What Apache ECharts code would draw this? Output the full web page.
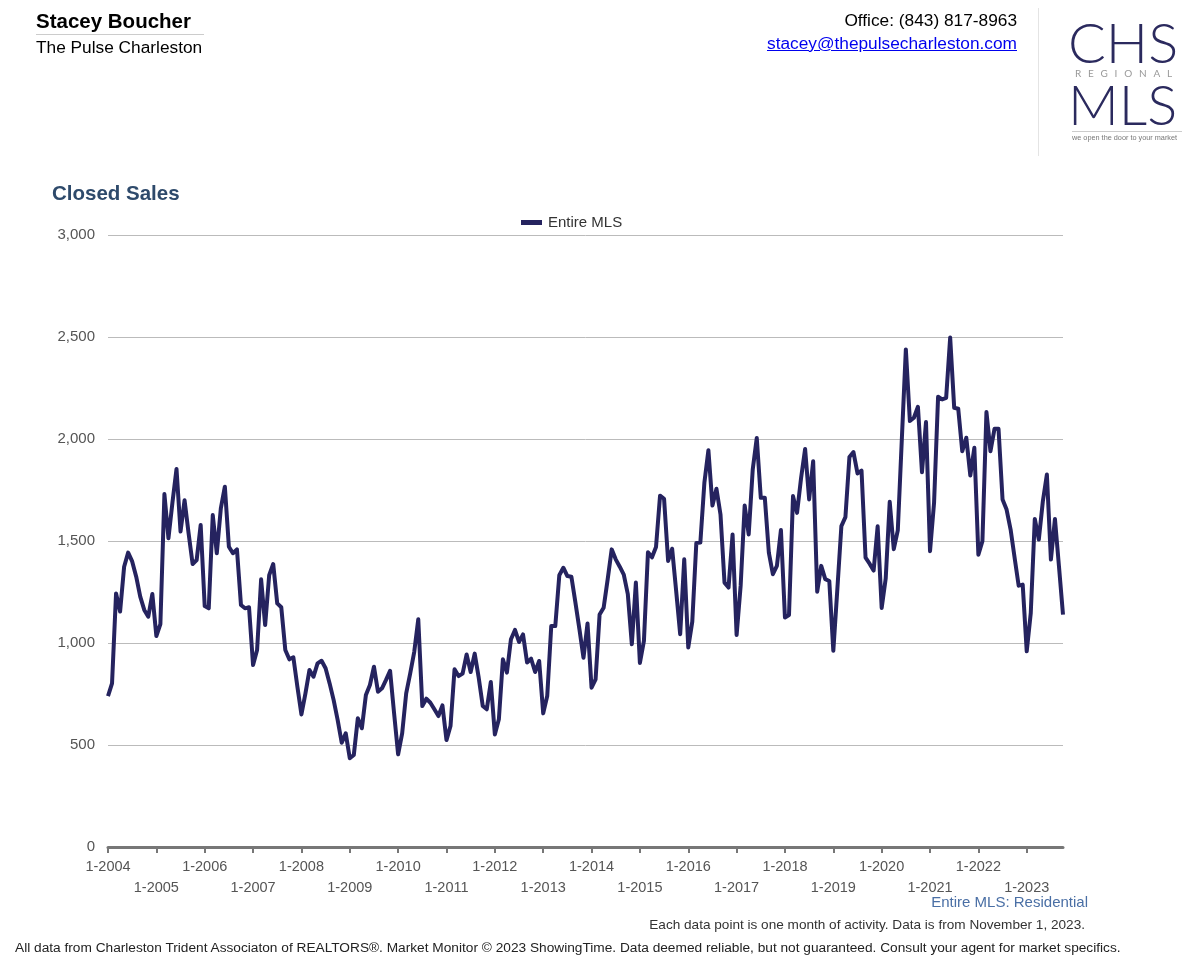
<!DOCTYPE html>
<html>
<head>
<meta charset="utf-8">
<script src="https://cdn.jsdelivr.net/npm/echarts@6/dist/echarts.min.js"></script>
<style>
  html, body { margin:0; padding:0; background:#fff; }
  body { width:1200px; height:971px; position:relative; overflow:hidden; font-family: "Liberation Sans", Arial, sans-serif; }
  #chart { position:absolute; left:0; top:0; width:1200px; height:971px; }
  .t { position:absolute; white-space:nowrap; }
</style>
</head>
<body>
<div id="chart"></div>
<div class="t" style="left:36px;top:9px;font-size:20.5px;font-weight:bold;color:#000;">Stacey Boucher</div>
<div style="position:absolute;left:36px;top:34px;width:168px;height:1px;background:#ccc;"></div>
<div class="t" style="left:36px;top:37px;font-size:17.3px;color:#000;">The Pulse Charleston</div>
<div class="t" style="right:183px;top:10px;font-size:17.3px;color:#000;">Office: (843) 817-8963</div>
<div class="t" style="right:183px;top:33px;font-size:17.3px;color:#0000ee;text-decoration:underline;">stacey@thepulsecharleston.com</div>
<div style="position:absolute;left:1038px;top:8px;width:1px;height:148px;background:#e4e4e4;"></div>
<div class="t" style="left:1068px;top:14px;font-size:56px;line-height:56px;font-family:Lato,'Open Sans',sans-serif;font-weight:300;color:#2b2a5e;letter-spacing:0px;">CHS</div>
<div class="t" style="left:1075px;top:67px;font-size:10px;line-height:12px;font-family:Lato,sans-serif;color:#999;letter-spacing:6.8px;">REGIONAL</div>
<div class="t" style="left:1068px;top:76px;font-size:56px;line-height:56px;font-family:Lato,'Open Sans',sans-serif;font-weight:300;color:#2b2a5e;letter-spacing:0px;">MLS</div>
<div style="position:absolute;left:1072px;top:131px;width:110px;height:1px;background:#ccc;"></div>
<div class="t" style="left:1072px;top:133px;font-size:7.3px;color:#777;">we open the door to your market</div>
<div class="t" style="left:52px;top:181px;font-size:20.5px;font-weight:bold;color:#2e4a6b;">Closed Sales</div>
<div class="t" style="right:112px;top:893px;font-size:15px;color:#4a6fa5;">Entire MLS: Residential</div>
<div class="t" style="right:115px;top:917px;font-size:13.6px;color:#333;">Each data point is one month of activity. Data is from November 1, 2023.</div>
<div class="t" style="left:15px;top:940px;font-size:13.7px;color:#222;">All data from Charleston Trident Associaton of REALTORS®. Market Monitor © 2023 ShowingTime. Data deemed reliable, but not guaranteed. Consult your agent for market specifics.</div>
<script>
const years = [2004,2005,2006,2007,2008,2009,2010,2011,2012,2013,2014,2015,2016,2017,2018,2019,2020,2021,2022,2023];
const v2004 = [740, 802, 1243, 1154, 1374, 1443, 1400, 1325, 1227, 1162, 1129, 1240];
const v2005 = [1034, 1093, 1730, 1513, 1690, 1853, 1546, 1700, 1538, 1387, 1407, 1578];
const v2006 = [1181, 1170, 1627, 1440, 1660, 1766, 1472, 1440, 1459, 1186, 1170, 1175];
const v2007 = [892, 966, 1312, 1088, 1333, 1387, 1194, 1175, 966, 920, 930, 786];
const v2008 = [650, 753, 868, 835, 900, 913, 876, 802, 720, 622, 511, 557];
const v2009 = [435, 451, 631, 582, 745, 794, 884, 761, 778, 819, 864, 655];
const v2010 = [454, 557, 753, 851, 957, 1116, 691, 727, 707, 675, 642, 694];
const v2011 = [524, 593, 871, 838, 850, 944, 858, 948, 830, 691, 675, 809];
const v2012 = [552, 626, 920, 855, 1018, 1064, 1005, 1042, 904, 923, 858, 912];
const v2013 = [655, 740, 1083, 1083, 1332, 1369, 1328, 1325, 1198, 1067, 928, 1096];
const v2014 = [781, 822, 1140, 1173, 1312, 1459, 1410, 1374, 1335, 1240, 994, 1296];
const v2015 = [902, 1010, 1445, 1420, 1471, 1722, 1707, 1402, 1462, 1255, 1043, 1410];
const v2016 = [978, 1105, 1490, 1492, 1785, 1945, 1674, 1756, 1630, 1296, 1272, 1532];
const v2017 = [1039, 1280, 1674, 1532, 1850, 2005, 1712, 1712, 1443, 1337, 1378, 1554];
const v2018 = [1125, 1137, 1720, 1638, 1809, 1951, 1704, 1891, 1251, 1378, 1313, 1304];
const v2019 = [962, 1264, 1573, 1617, 1912, 1936, 1831, 1845, 1418, 1389, 1355, 1572];
const v2020 = [1172, 1316, 1692, 1460, 1552, 1998, 2439, 2088, 2104, 2158, 1837, 2083];
const v2021 = [1450, 1687, 2207, 2194, 2202, 2497, 2153, 2148, 1940, 2006, 1821, 1957];
const v2022 = [1433, 1499, 2132, 1940, 2050, 2050, 1703, 1654, 1556, 1417, 1281, 1286];
const v2023 = [959, 1147, 1608, 1507, 1695, 1826, 1409, 1608, 1376, 1139];
const yearValues = [v2004,v2005,v2006,v2007,v2008,v2009,v2010,v2011,v2012,v2013,v2014,v2015,v2016,v2017,v2018,v2019,v2020,v2021,v2022,v2023];
const yTicks = [0, 500, 1000, 1500, 2000, 2500, 3000];

const categories = [];
const values = [];
years.forEach((y, yi) => {
  yearValues[yi].forEach((v, m) => { categories.push((m + 1) + '-' + y); values.push(v); });
});

const chart = echarts.init(document.getElementById('chart'), null, {renderer: 'canvas'});
const isJan = (idx) => categories[idx].startsWith('1-');
chart.setOption({
  animation: false,
  legend: {
    left: 516, top: 210,
    icon: 'rect', itemWidth: 21, itemHeight: 5, itemGap: 6,
    textStyle: { fontSize: 15, color: '#333', padding: [0, 0, 0, 1], fontFamily: 'Liberation Sans, Arial, sans-serif' },
    data: ['Entire MLS']
  },
  grid: { left: 108, right: 137, top: 235, bottom: 124, containLabel: false },
  xAxis: {
    type: 'category', data: categories, boundaryGap: false,
    axisLine: { lineStyle: { color: '#777', width: 3 } },
    axisTick: { interval: (idx) => isJan(idx), length: 6, lineStyle: { color: '#777', width: 2 } },
    axisLabel: {
      interval: (idx) => isJan(idx), margin: 9,
      fontSize: 14.5, color: '#555', lineHeight: 21, fontFamily: 'Liberation Sans, Arial, sans-serif',
      formatter: (val) => { const y = +val.split('-')[1]; return (y % 2 === 0) ? val : '\n' + val; }
    },
    splitLine: { show: false }
  },
  yAxis: {
    type: 'value', min: yTicks[0], max: yTicks[yTicks.length - 1], interval: 500,
    axisLine: { show: false }, axisTick: { show: false },
    axisLabel: { fontSize: 15, color: '#555', margin: 13, fontFamily: 'Liberation Sans, Arial, sans-serif',
      formatter: (v) => v.toLocaleString('en-US') },
    splitLine: { lineStyle: { color: '#bbb', width: 1 } }
  },
  series: [{
    name: 'Entire MLS', type: 'line', data: values,
    showSymbol: false, symbol: 'none',
    lineStyle: { color: '#25235f', width: 4, join: 'round' },
    itemStyle: { color: '#25235f' }
  }]
});
</script>
</body>
</html>
